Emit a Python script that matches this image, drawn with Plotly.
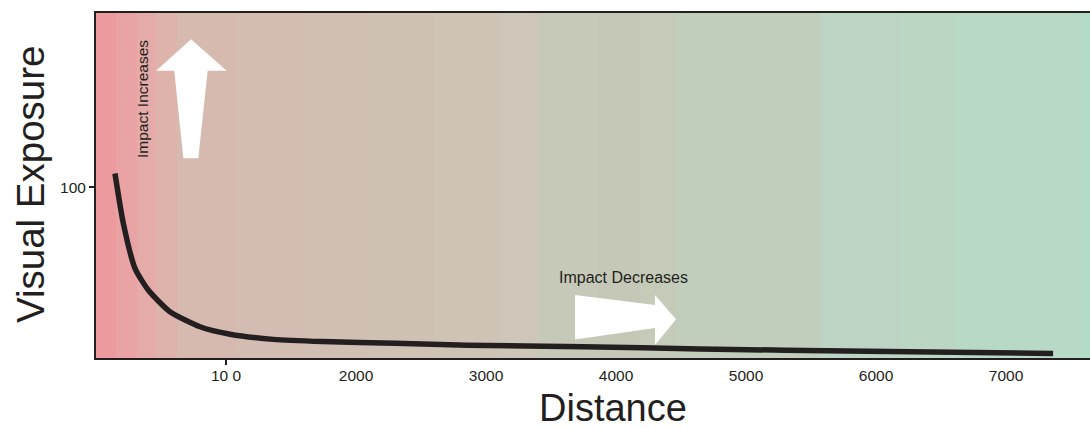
import plotly.graph_objects as go

# ---- data ----
distance = [146, 210, 300, 402, 569, 800, 1031, 1364, 1746, 2300, 2854, 3746, 4646, 5931, 7362]
exposure = [108, 78.9, 52.5, 39.8, 27.1, 18.3, 13.9, 10.9, 9.6, 8.6, 7.5, 6.6, 5.3, 3.9, 2.7]

x_tickvals = [1000, 2000, 3000, 4000, 5000, 6000, 7000]
x_ticktext = ["10 0", "2000", "3000", "4000", "5000", "6000", "7000"]
y_tickvals = [100]
y_ticktext = ["100"]

# background colour bands (distance edges and colours)
band_edges = [0, 154, 313, 459, 625, 1082, 1600, 2100, 2600, 3092, 3400, 3862, 4185,
              4477, 5569, 6185, 6623, 7592, 7700]
band_colors = ["#EC9A9E", "#E9A3A4", "#E4ABA8", "#DEB3AC", "#D6BAB0", "#D3BDB2", "#D1BFB4",
               "#D0C1B5", "#CFC3B6", "#CEC6B8", "#C6C8B8", "#C5C8B7", "#C4CBB9", "#C2CEBC",
               "#BDD4C4", "#BBD7C3", "#B7D9C5", "#B2DCC8"]

X_MAX = 7646
Y_MAX = 202
INK = "#231F20"
FONT = "Liberation Sans, Arial, sans-serif"

n = len(band_colors)
colorscale = [[i / (n - 1), c] for i, c in enumerate(band_colors)]

fig = go.Figure()
fig.add_trace(go.Heatmap(
    x=band_edges, y=[0, Y_MAX], z=[list(range(n))],
    colorscale=colorscale, zmin=0, zmax=n - 1, showscale=False, hoverinfo="skip"))
fig.add_trace(go.Scatter(
    x=distance, y=exposure, mode="lines",
    line=dict(color=INK, width=5.5, shape="spline", smoothing=0.6),
    hoverinfo="skip", showlegend=False))

# white arrows (in data units)
up_arrow = "M 672,116.9 L 602,168.2 L 462,168.2 L 731,186.6 L 1005,168.2 L 859,168.2 L 787,116.9 Z"
right_arrow = "M 3685,36.9 L 4300,31.0 L 4300,36.9 L 4462,22.7 L 4300,7.6 L 4300,17.6 L 3685,10.9 Z"
for p in (up_arrow, right_arrow):
    fig.add_shape(type="path", path=p, xref="x", yref="y",
                  fillcolor="white", line=dict(width=0), layer="above")

fig.update_layout(
    width=1090, height=428,
    margin=dict(l=96, r=0, t=13, b=70),
    paper_bgcolor="white", plot_bgcolor="white",
    font=dict(family=FONT, color=INK),
    showlegend=False,
)
fig.update_xaxes(
    range=[0, X_MAX], showgrid=False, zeroline=False,
    showline=True, linecolor=INK, linewidth=2, mirror=True,
    tickmode="array", tickvals=x_tickvals, ticktext=x_ticktext,
    ticks="", tickfont=dict(size=15.5, color=INK, family=FONT),
    ticklabelstandoff=2,
    minor=dict(tickmode="array", tickvals=[1000], ticks="outside", ticklen=5,
               tickwidth=2, tickcolor=INK),
)
fig.update_yaxes(
    range=[0, Y_MAX], showgrid=False, zeroline=False,
    showline=True, linecolor=INK, linewidth=2,
    tickmode="array", tickvals=y_tickvals, ticktext=y_ticktext,
    ticks="outside", ticklen=5, tickwidth=2, tickcolor=INK,
    tickfont=dict(size=15.5, color=INK, family=FONT),
)


def px_annot(text, px, py, size, angle=0):
    fig.add_annotation(
        text=text, showarrow=False, textangle=angle,
        xref="paper", yref="paper",
        x=(px - 96) / (1090 - 96), y=(358 - py) / (358 - 13),
        xanchor="center", yanchor="middle",
        font=dict(size=size, color=INK, family=FONT))


px_annot("Impact Increases", 142, 99, 15.5, -90)
px_annot("Impact Decreases", 623, 277, 16)
px_annot("Distance", 613, 408, 38)
px_annot("Visual Exposure", 30, 184, 38.5, -90)

fig.write_html("out.html", config={"displayModeBar": False},
               post_script="document.body.style.margin='0';")
